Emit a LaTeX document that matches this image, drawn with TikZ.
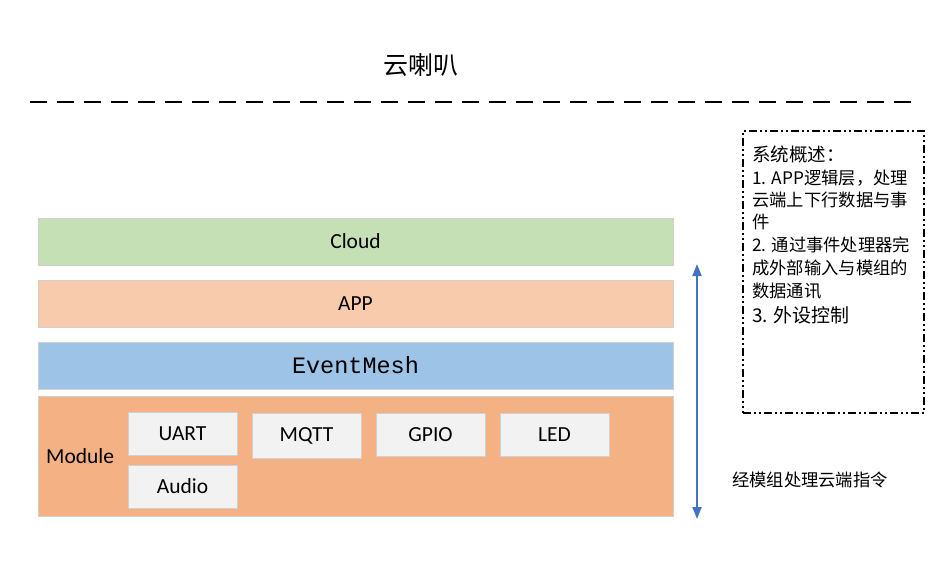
\documentclass[tikz,border=0pt]{standalone}
\usepackage{fontspec}
\setmainfont{Carlito}
\newfontfamily\cjk{Noto Sans CJK SC}
\newfontfamily\monofont{Liberation Mono}
\usetikzlibrary{positioning,arrows.meta}

\definecolor{cloudgreen}{HTML}{C5E0B4}
\definecolor{appsalmon}{HTML}{F8CBAD}
\definecolor{meshblue}{HTML}{9DC3E6}
\definecolor{modorange}{HTML}{F4B183}
\definecolor{chipgrey}{HTML}{F2F2F2}
\definecolor{edgegrey}{HTML}{D0D0D0}
\definecolor{arrowblue}{HTML}{4472C4}

\begin{document}
\begin{tikzpicture}[x=1pt,y=-1pt]
	\tikzset{layer/.style={draw=edgegrey,line width=0.8pt,minimum width=635pt,minimum height=47pt,inner sep=0pt,font=\fontsize{21.5}{24}\selectfont}}
	\tikzset{chip/.style={draw=edgegrey,line width=0.8pt,fill=chipgrey,minimum width=109pt,minimum height=43pt,inner sep=0pt,font=\fontsize{21.5}{24}\selectfont}}
	\tikzset{noteline/.style={anchor=west,inner sep=0pt,font=\cjk\fontsize{17.3}{20}\selectfont}}
	\useasboundingbox (0,0) rectangle (936,571);
	% title and separator
	\node[font=\cjk\fontsize{25}{28}\selectfont] (title) at (421,65) {云喇叭};
	\coordinate (sepl) at (30,102);
	\coordinate (sepr) at (912,102);
	\draw[line width=2pt,dash pattern=on 17pt off 10pt] (sepl) -- (sepr);
	% layers
	\node[layer,fill=cloudgreen] (cloud) at (355.5,241.5) {Cloud};
	\node[layer,fill=appsalmon] (app) at (355.5,303.5) {APP};
	\node[layer,fill=meshblue,font=\monofont\fontsize{23.5}{26}\selectfont] (mesh) at (355.5,365.5) {EventMesh};
	\node[layer,fill=modorange,minimum height=120pt] (module) at (355.5,456) {};
	\node[anchor=west,font=\fontsize{21.5}{24}\selectfont,inner sep=0pt] (modlabel) at (46,456) {Module};
	% module parts
	\node[chip] (uart) at (182.5,433.5) {UART};
	\node[chip,minimum height=45pt] (mqtt) at (306.5,435.5) {MQTT};
	\node[chip] (gpio) at (430.5,434.5) {GPIO};
	\node[chip] (led) at (554.5,434.5) {LED};
	\node[chip] (audio) at (182.5,486.5) {Audio};
	% cloud command path
	\coordinate (arrtop) at (697,264);
	\coordinate (arrbot) at (697,519);
	\draw[arrowblue,line width=1.8pt,{Triangle[width=9pt,length=12pt]}-{Triangle[width=9pt,length=12pt]}] (arrtop) -- (arrbot);
	\node[font=\cjk\fontsize{17.3}{20}\selectfont] (cmd) at (810,480) {经模组处理云端指令};
	% overview box
	\node[draw,line width=1.2pt,dash pattern=on 8pt off 3pt on 2pt off 3pt on 2pt off 3pt,minimum width=181pt,minimum height=282pt,inner sep=0pt] (note) at (833.5,272) {};
	\node[noteline,font=\cjk\fontsize{18.5}{21}\selectfont] (n0) at (752,154) {系统概述：};
	\node[noteline] (n1) at (752,178) {1. APP逻辑层，处理};
	\node[noteline] (n2) at (752,200) {云端上下行数据与事};
	\node[noteline] (n3) at (752,222) {件};
	\node[noteline] (n4) at (752,245) {2. 通过事件处理器完};
	\node[noteline] (n5) at (752,268) {成外部输入与模组的};
	\node[noteline] (n6) at (752,291) {数据通讯};
	\node[noteline,font=\cjk\fontsize{19}{22}\selectfont] (n7) at (752,315) {3. 外设控制};
\end{tikzpicture}
\end{document}
